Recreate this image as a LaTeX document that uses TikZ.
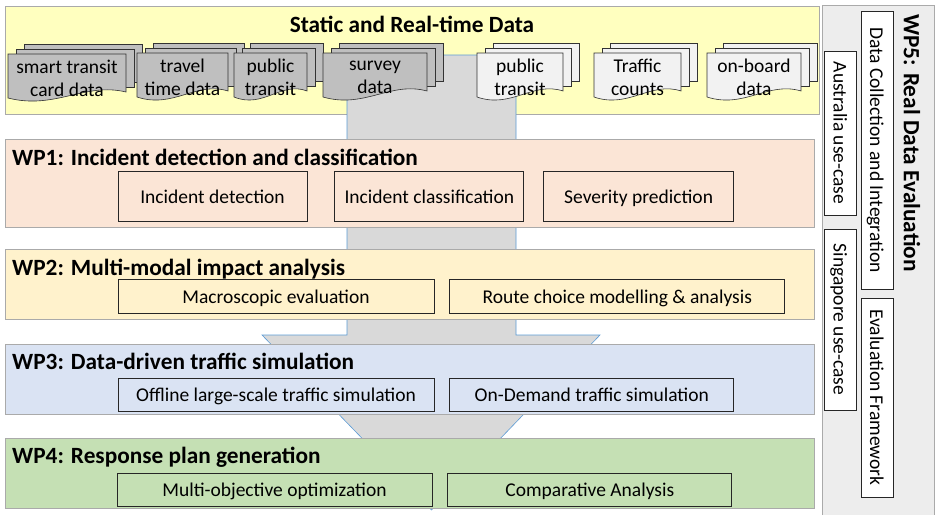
\documentclass[tikz,border=0pt]{standalone}
\usepackage{fontspec}
\setmainfont{Carlito}
\usepackage{tikz}
\usetikzlibrary{positioning, calc}
\definecolor{srcyellow}{RGB}{255,255,191}
\definecolor{wpone}{RGB}{251,229,214}
\definecolor{wptwo}{RGB}{255,242,204}
\definecolor{wpthree}{RGB}{218,227,243}
\definecolor{wpfour}{RGB}{197,224,180}
\definecolor{wpfive}{RGB}{237,237,237}
\definecolor{panelgray}{RGB}{170,170,170}
\definecolor{docdark}{RGB}{191,191,191}
\definecolor{doclight}{RGB}{242,242,242}
\definecolor{arrowgray}{RGB}{217,217,217}
\definecolor{arrowblue}{RGB}{91,155,213}
\newcommand{\bodyfont}{\fontsize{19.5}{23}\selectfont}
\newcommand{\headfont}{\fontsize{23.3}{26}\selectfont\bfseries}

% stack of three sheets, front one with wavy bottom
% #1 name, #2 x, #3 y, #4 width, #5 fill, #6 text
\newcommand{\docstack}[6]{%
  \foreach \k in {2,1}
    \draw[docline,fill=#5] (#2+8*\k,#3-5*\k) rectangle ++(#4,38);
  \draw[docline,fill=#5] (#2,#3) -- (#2+#4,#3) -- (#2+#4,#3+38)
    .. controls (#2+0.65*#4,#3+28) and (#2+0.4*#4,#3+56) .. (#2,#3+44) -- cycle;
  \node[doctext] (#1) at (#2+0.5*#4,#3+24) {#6};
}

\begin{document}
\begin{tikzpicture}[x=1pt,y=-1pt,
  panel/.style={draw=panelgray,line width=0.8pt,anchor=north west,inner sep=0pt},
  task/.style={draw=black!85,line width=0.8pt,inner sep=0pt,font=\bodyfont,
    text height=16pt,text depth=2pt},
  side/.style={task,fill=white,rotate=-90,minimum height=32pt},
  docline/.style={draw=black!80,line width=0.6pt},
  doctext/.style={align=center,font=\bodyfont},
  wptitle/.style={anchor=base west,font=\headfont,inner sep=0pt}]
\useasboundingbox (0,0) rectangle (939,514);

% Data sources
\node[panel,fill=srcyellow,minimum width=814pt,minimum height=108pt] (src) at (5,6) {};
\node[anchor=base,font=\headfont,inner sep=0pt] (srctitle) at (412,32) {Static and Real-time Data};

% Big arrow behind the work packages
\draw[fill=arrowgray,draw=arrowblue,line width=0.6pt] (347,55) -- (516,55) -- (516,335)
  -- (600,335) -- (431.5,510) -- (262,335) -- (347,335) -- cycle;

\docstack{smart}{8}{54}{118}{docdark}{smart transit\\card data}
\docstack{travel}{137}{53}{91}{docdark}{travel\\time data}
\docstack{ptdark}{234}{53}{73}{docdark}{public\\transit}
\docstack{survey}{323}{53}{104}{docdark}{survey\\data}
\docstack{ptlight}{477}{53}{86}{doclight}{public\\transit}
\docstack{counts}{594}{53}{87}{doclight}{Traffic\\counts}
\docstack{onboard}{707}{53}{94}{doclight}{on-board\\data}

% WP1
\node[panel,fill=wpone,minimum width=809pt,minimum height=88pt] (wp1) at (5,139) {};
\node[wptitle] (wp1title) at (12,165) {WP1: Incident detection and classification};
\node[task,fill=wpone,minimum width=189pt,minimum height=50pt] (detect) at (212.5,196) {Incident detection};
\node[task,fill=wpone,minimum width=189pt,minimum height=50pt,right=27pt of detect] (classify) {Incident classification};
\node[task,fill=wpone,minimum width=190pt,minimum height=50pt,right=19pt of classify] (severity) {Severity prediction};

% WP2
\node[panel,fill=wptwo,minimum width=809pt,minimum height=70pt] (wp2) at (5,249) {};
\node[wptitle] (wp2title) at (12,275) {WP2: Multi-modal impact analysis};
\node[task,fill=wptwo,minimum width=316pt,minimum height=34pt] (macro) at (276,296) {Macroscopic evaluation};
\node[task,fill=wptwo,minimum width=335pt,minimum height=34pt,right=15pt of macro] (route) {Route choice modelling \& analysis};

% WP3
\node[panel,fill=wpthree,minimum width=809pt,minimum height=70pt] (wp3) at (5,344) {};
\node[wptitle] (wp3title) at (12,369) {WP3: Data-driven traffic simulation};
\node[task,fill=wpthree,minimum width=316pt,minimum height=33pt] (offline) at (276,394.5) {Offline large-scale traffic simulation};
\node[task,fill=wpthree,minimum width=284pt,minimum height=33pt,right=15pt of offline] (ondemand) {On-Demand traffic simulation};

% WP4
\node[panel,fill=wpfour,minimum width=809pt,minimum height=70pt] (wp4) at (5,438) {};
\node[wptitle] (wp4title) at (12,463) {WP4: Response plan generation};
\node[task,fill=wpfour,minimum width=315pt,minimum height=33pt] (multiobj) at (274.5,489.5) {Multi-objective optimization};
\node[task,fill=wpfour,minimum width=284pt,minimum height=33pt,right=15pt of multiobj] (compare) {Comparative Analysis};

% WP5 (vertical)
\node[panel,fill=wpfive,minimum width=112pt,minimum height=511pt] (wp5) at (822,5) {};
\node[rotate=-90,font=\headfont,inner sep=0pt] (wp5title) at (912,143) {WP5: Real Data Evaluation};
\node[side,minimum width=278pt] (collect) at (877,150) {Data Collection and Integration};
\node[side,minimum width=199pt] (evalfw) at (877,397.5) {Evaluation Framework};
\node[side,minimum width=164pt] (aus) at (840.5,133) {Australia use-case};
\node[side,minimum width=181pt] (sgp) at (840.5,319.5) {Singapore use-case};
\end{tikzpicture}
\end{document}
